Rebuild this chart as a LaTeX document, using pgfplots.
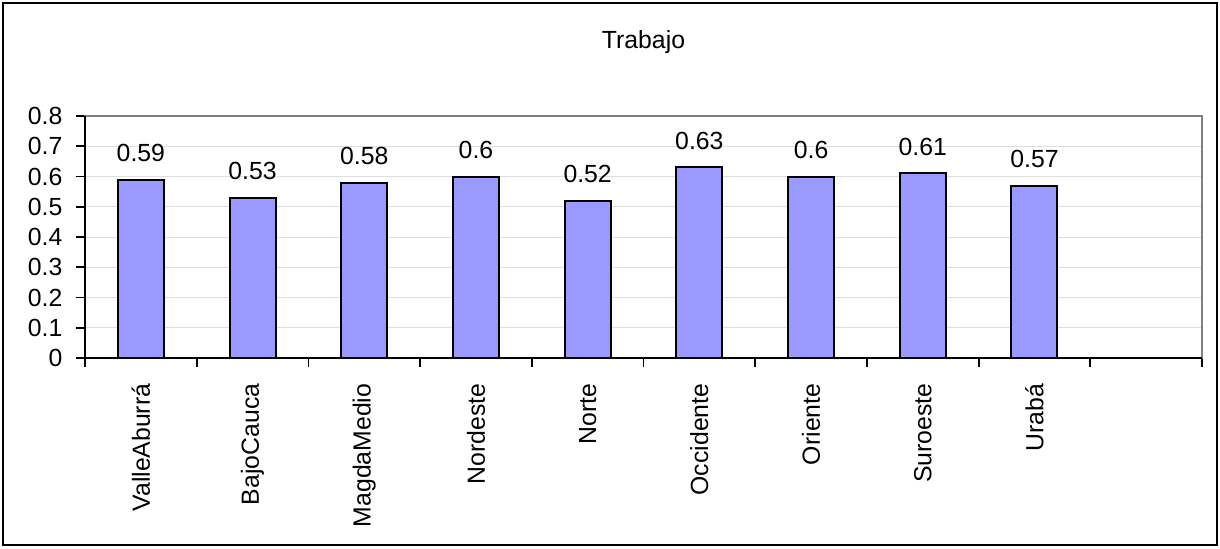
\documentclass[border=0pt]{standalone}
\usepackage{pgfplots}
\pgfplotsset{compat=1.18}
\usepackage{fontspec}
\setmainfont{Liberation Sans}
\definecolor{barblue}{RGB}{153,153,255}
\definecolor{gridgray}{RGB}{222,222,222}
\definecolor{framegray}{RGB}{128,128,128}
\begin{document}
\fontsize{12.4}{14}\selectfont
\begin{tikzpicture}
\path[use as bounding box] (-42.5pt,-95pt) rectangle (567.5pt,179pt);
\draw[line width=0.8pt] (-41pt,-93.5pt) rectangle (566pt,177.5pt);
\begin{axis}[
  at={(0pt,0pt)}, anchor=south west,
  scale only axis,
  width=558.5pt, height=121pt,
  xmin=0.5, xmax=10.5,
  ymin=0, ymax=0.8,
  ytick={0,0.1,...,0.8},
  xtick={1,2,3,4,5,6,7,8,9},
  xticklabels={ValleAburrá,BajoCauca,MagdaMedio,Nordeste,Norte,Occidente,Oriente,Suroeste,Urabá},
  minor xtick={0.5,1.5,...,10.5},
  major x tick style={draw=none},
  tick align=outside,
  tick pos=left,
  major tick length=4.5pt,
  minor tick length=4.5pt,
  every tick/.style={black, line width=0.9pt},
  xticklabel style={rotate=90, anchor=east, xshift=-4pt},
  yticklabel style={xshift=-2.5pt},
  ymajorgrids,
  grid style={gridgray, line width=0.5pt},
  axis line style={framegray, line width=0.8pt},
  /pgf/number format/assume math mode=true,
  /pgf/number format/fixed,
  /pgf/number format/precision=2,
  ticklabel style={font=\fontsize{12.4}{14}\selectfont},
  title={Trabajo},
  title style={at={(0.5,1)}, anchor=base, yshift=28pt, font=\fontsize{12.4}{14}\selectfont},
  nodes near coords,
  every node near coord/.append style={font=\fontsize{12.4}{14}\selectfont, anchor=base, yshift=9pt},
  clip=false,
]
\addplot[ybar, bar width=23pt, fill=barblue, draw=black, line width=1pt]
coordinates {
(1,0.59) (2,0.53) (3,0.58) (4,0.6) (5,0.52) (6,0.63) (7,0.6) (8,0.61) (9,0.57)
};
\draw[black, line width=1pt] (rel axis cs:0,1) -- (rel axis cs:0,0) -- (rel axis cs:1,0);
\end{axis}
\end{tikzpicture}
\end{document}
